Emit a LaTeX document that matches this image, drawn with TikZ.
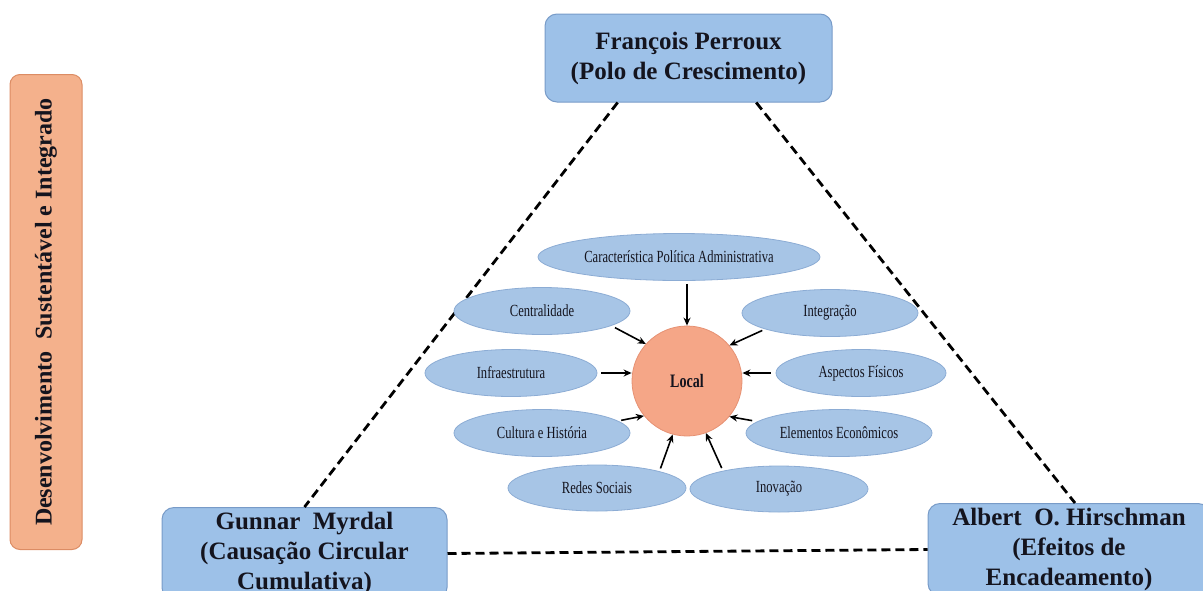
\documentclass[tikz,border=0pt]{standalone}
\usepackage{fontspec}
\setmainfont{Liberation Serif}
\newfontfamily\condfont[FakeStretch=0.74]{Liberation Serif}
\usetikzlibrary{shapes.geometric,calc,arrows.meta}

\definecolor{boxblue}{RGB}{157,193,232}
\definecolor{boxedge}{RGB}{120,155,200}
\definecolor{ellblue}{RGB}{167,197,230}
\definecolor{elledge}{RGB}{140,172,212}
\definecolor{orangefill}{RGB}{244,177,140}
\definecolor{orangeedge}{RGB}{220,140,100}
\definecolor{localfill}{RGB}{245,166,135}
\definecolor{localedge}{RGB}{230,145,115}
\definecolor{inktext}{RGB}{20,20,30}

\begin{document}
\begin{tikzpicture}[x=1pt,y=-1pt,
  theory/.style={draw=boxedge, fill=boxblue, rounded corners=12pt, line width=1pt,
    align=center, inner sep=0pt, text=inktext,
    font=\fontsize{25}{30}\selectfont\bfseries},
  factor/.style={ellipse, draw=elledge, fill=ellblue, line width=0.8pt, inner sep=0pt,
    minimum height=47pt, text=inktext, font=\condfont\fontsize{17}{19}\selectfont},
  link/.style={line width=2.8pt, dash pattern=on 9pt off 5pt},
  feed/.style={-{Stealth[length=8pt,width=7pt]}, line width=1.6pt, shorten <=3pt}
]
\useasboundingbox (0,0) rectangle (1203,590);

% theory boxes
\node[theory, minimum width=287pt, minimum height=88pt] (perroux) at (688.5,58)
  {François Perroux\\(Polo de Crescimento)};
\node[theory, minimum width=285pt, minimum height=92pt, anchor=north] (myrdal) at (304.5,507)
  {Gunnar\ \ Myrdal\\(Causação\ Circular\\Cumulativa)};
\node[theory, minimum width=282pt, minimum height=92pt, anchor=north] (hirsch) at (1069,503)
  {Albert\ \ O. Hirschman\\(Efeitos de\\Encadeamento)};

% side label
\node[draw=orangeedge, fill=orangefill, rounded corners=10pt, rotate=90, line width=1pt,
  minimum width=475pt, minimum height=72pt, inner sep=0pt, text=inktext,
  font=\fontsize{24}{28}\selectfont\bfseries] (dsi) at (46,312)
  {Desenvolvimento\ \ Sustentável e Integrado};

% dashed triangle
\draw[link] ($(perroux.south west)!0.254!(perroux.south east)$) -- (myrdal.north);
\draw[link] ($(perroux.south west)!0.735!(perroux.south east)$) -- ($(hirsch.north)+(6,0)$);
\draw[link] (myrdal.east) -- (hirsch.west);

% centre
\node[circle, draw=localedge, fill=localfill, line width=0.8pt, minimum size=110pt,
  inner sep=0pt, text=inktext, font=\condfont\bfseries\fontsize{19}{21}\selectfont]
  (local) at (687,381) {Local};

% factors
\node[factor, minimum width=282pt] (carac) at (679,257) {Característica Política Administrativa};
\node[factor, minimum width=176pt] (cent) at (542,311) {Centralidade};
\node[factor, minimum width=176pt] (integ) at (830,313) {Integração};
\node[factor, minimum width=172pt] (infra) at (511,373) {Infraestrutura};
\node[factor, minimum width=170pt] (aspect) at (861,373) {Aspectos Físicos};
\node[factor, minimum width=176pt] (cult) at (542,433) {Cultura e História};
\node[factor, minimum width=186pt] (elem) at (839,433) {Elementos Econômicos};
\node[factor, minimum width=178pt, minimum height=46pt] (redes) at (597,488) {Redes Sociais};
\node[factor, minimum width=178pt, minimum height=46pt] (inov) at (779,489) {Inovação};

% arrows
\draw[feed] (carac.south -| local.north) -- (local.north);
\draw[feed, shorten <=4pt] (cent.-12) -- (local.138);
\draw[feed] (integ.194) -- (local.40);
\draw[feed, shorten <=4pt] (infra.east) -- (infra.east -| local.west);
\draw[feed, shorten <=5pt] (aspect.west) -- (aspect.west -| local.east);
\draw[feed] (cult.9) -- (local.-141);
\draw[feed, shorten <=5pt] (elem.172) -- (local.-40);
\draw[feed] (redes.15) -- (local.-105);
\draw[feed] (inov.162) -- (local.-70);
\end{tikzpicture}
\end{document}
